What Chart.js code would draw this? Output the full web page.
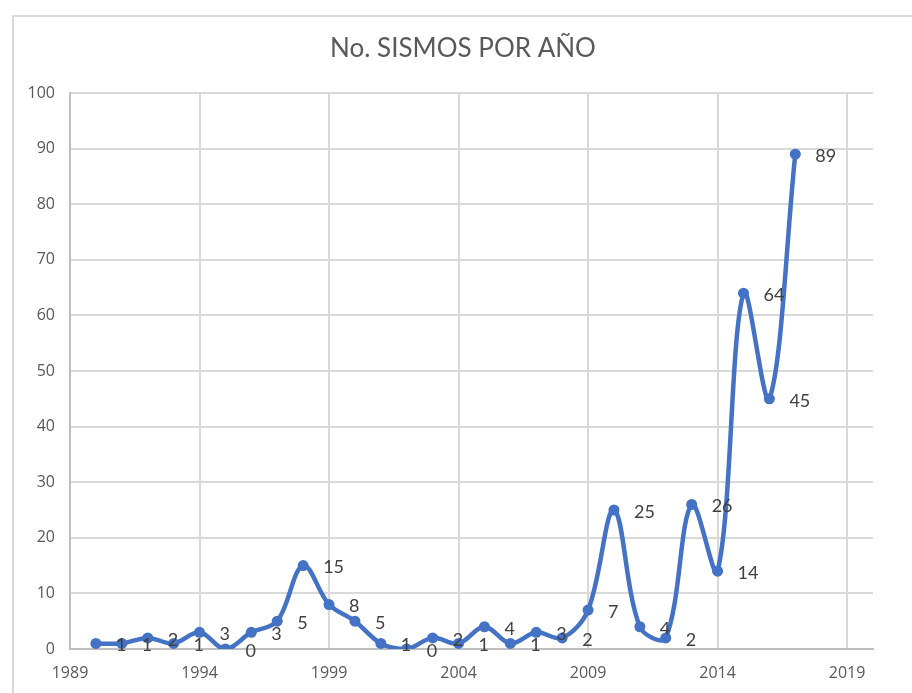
<!DOCTYPE html>
<html>
<head>
<meta charset="utf-8">
<script src="https://cdn.jsdelivr.net/npm/chart.js@4/dist/chart.umd.min.js"></script>
<style>
  html, body { margin: 0; padding: 0; background: #ffffff; }
  #wrap { position: relative; width: 912px; height: 693px; overflow: hidden; }
  #frame { position: absolute; left: 12px; top: 15px; width: 1000px; height: 800px; border: 2px solid #d9d9d9; box-sizing: border-box; }
  canvas { position: absolute; left: 0; top: 0; }
</style>
</head>
<body>
<div id="wrap">
  <div id="frame"></div>
  <canvas id="c" width="912" height="693"></canvas>
</div>
<script>
const chartTitle = "No. SISMOS POR AÑO";
const years = [1990, 1991, 1992, 1993, 1994, 1995, 1996, 1997, 1998, 1999,
               2000, 2001, 2002, 2003, 2004, 2005, 2006, 2007, 2008, 2009,
               2010, 2011, 2012, 2013, 2014, 2015, 2016, 2017];
const sismos = [1, 1, 2, 1, 3, 0, 3, 5, 15, 8,
                5, 1, 0, 2, 1, 4, 1, 3, 2, 7,
                25, 4, 2, 26, 14, 64, 45, 89];
const xTicks = [1989, 1994, 1999, 2004, 2009, 2014, 2019];
const yTicks = [0, 10, 20, 30, 40, 50, 60, 70, 80, 90, 100];

const points = years.map((y, i) => ({ x: y, y: sismos[i] }));

const titlePlugin = {
  id: 'customTitle',
  afterDraw(chart) {
    const ctx = chart.ctx;
    ctx.save();
    ctx.font = '26px Lato';
    ctx.fillStyle = '#595959';
    ctx.textAlign = 'center';
    ctx.textBaseline = 'middle';
    ctx.fillText(chartTitle, 463, 49);
    ctx.restore();
  }
};

const labelPlugin = {
  id: 'pointLabels',
  afterDatasetsDraw(chart) {
    const ctx = chart.ctx;
    const meta = chart.getDatasetMeta(0);
    ctx.save();
    ctx.font = '18px Lato';
    ctx.fillStyle = '#404040';
    ctx.textAlign = 'left';
    ctx.textBaseline = 'middle';
    meta.data.forEach((el, i) => {
      ctx.fillText(String(sismos[i]), el.x + 20, el.y + 2);
    });
    ctx.restore();
  }
};

new Chart(document.getElementById('c'), {
  type: 'line',
  data: {
    datasets: [{
      data: points,
      borderColor: '#4472C4',
      backgroundColor: '#4472C4',
      borderWidth: 4.5,
      pointRadius: 5.5,
      pointBackgroundColor: '#4472C4',
      pointBorderColor: '#4472C4',
      pointBorderWidth: 0,
      tension: 0.35,
      fill: false
    }]
  },
  options: {
    responsive: false,
    animation: false,
    layout: { padding: { top: 93, right: 39, left: 0, bottom: 0 } },
    plugins: {
      legend: { display: false },
      title: { display: false },
      tooltip: { enabled: false }
    },
    scales: {
      x: {
        type: 'linear',
        min: 1989,
        max: 2020,
        afterBuildTicks(scale) { scale.ticks = xTicks.map(v => ({ value: v })); },
        afterFit(scale) { scale.height = 44; },
        grid: { color: '#d9d9d9', lineWidth: 2, drawTicks: false },
        border: { color: '#bfbfbf', width: 2 },
        ticks: {
          color: '#595959',
          font: { family: 'Open Sans', size: 16 },
          padding: 15,
          maxRotation: 0,
          autoSkip: false,
          callback: v => String(v)
        }
      },
      y: {
        min: 0,
        max: 100,
        afterBuildTicks(scale) { scale.ticks = yTicks.map(v => ({ value: v })); },
        afterFit(scale) { scale.width = 70; },
        grid: { color: '#d9d9d9', lineWidth: 2, drawTicks: false },
        border: { color: '#bfbfbf', width: 2 },
        ticks: {
          color: '#595959',
          font: { family: 'Open Sans', size: 16 },
          padding: 15
        }
      }
    }
  },
  plugins: [titlePlugin, labelPlugin]
});
</script>
</body>
</html>
